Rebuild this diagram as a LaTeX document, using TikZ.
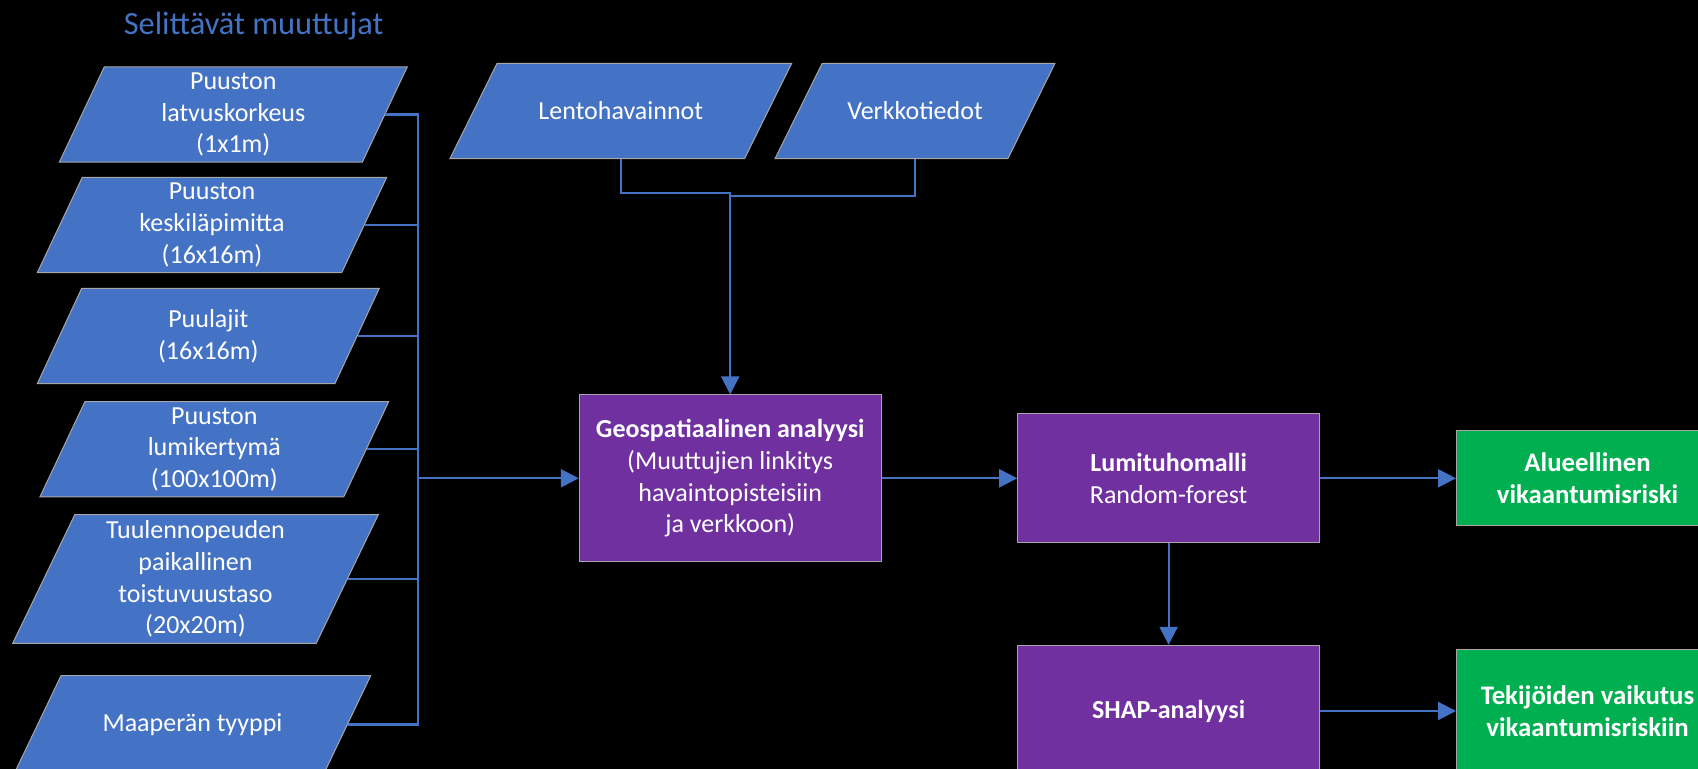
\documentclass[tikz,border=0pt]{standalone}
\usepackage{fontspec}
\setmainfont{Carlito}
\usepackage{xcolor}
\usepackage{tikz}
\usetikzlibrary{shapes.geometric,arrows.meta,positioning}

\definecolor{blu}{HTML}{4472C4}
\definecolor{purp}{HTML}{7030A0}
\definecolor{grn}{HTML}{00B050}

\begin{document}
\begin{tikzpicture}[
  x=0.5pt, y=-0.5pt,
  font=\fontsize{13}{15.9}\selectfont,
  inp/.style ={trapezium,trapezium left angle=63.6,trapezium right angle=116.4,
               trapezium stretches body,draw=gray!70,line width=0.5pt,fill=blu,
               text=white,align=center,inner xsep=0pt,inner ysep=1.7pt,
               minimum width=174pt,minimum height=47.7pt},
  proc/.style={draw=gray!70,line width=0.5pt,fill=purp,text=white,align=center,
               minimum width=150.9pt,minimum height=64.4pt,inner sep=2pt},
  res/.style ={draw=gray!70,line width=0.5pt,fill=grn,text=white,align=center,
               font=\fontsize{13.4}{16.2}\selectfont\bfseries,
               minimum width=131pt,minimum height=47.7pt,inner sep=2pt},
  ttl/.style ={font=\fontsize{16.2}{19}\selectfont,text=blu,anchor=base},
  conn/.style={draw=blu,line width=1.1pt},
  >={Triangle[length=9pt,width=9pt]}]

% page and background
\useasboundingbox (0,0) rectangle (1698,769);
\fill[black] (0,0) rectangle (1698,769);

%---------------- explanatory variables ----------------
\node[ttl] (title) at (253.7,34.3) {Selittävät muuttujat};
\node[inp] (p1) at (233.3,114.5) {Puuston\\latvuskorkeus\\(1x1m)};
\node[inp,minimum width=174.7pt] (p2) at (212,225) {Puuston\\keskiläpimitta\\(16x16m)};
\node[inp,minimum width=171pt,inner ysep=9pt] (p3) at (208.3,336) {Puulajit\\(16x16m)};
\node[inp,minimum width=174.4pt] (p4) at (214.3,449.3) {Puuston\\lumikertymä\\(100x100m)};
\node[inp,minimum width=182.8pt,minimum height=64.3pt,inner ysep=2pt] (p5) at (195.5,579)
  {Tuulennopeuden\\paikallinen\\toistuvuustaso\\(20x20m)};
\node[inp,minimum width=178.2pt,minimum height=48.8pt,inner ysep=18pt] (p6) at (192.5,724.5)
  {Maaperän tyyppi};

%---------------- observations and network ----------------
\node[inp,minimum width=170.9pt,inner ysep=19.2pt] (lento) at (620.8,111) {Lentohavainnot};
\node[inp,minimum width=140pt,inner ysep=19.2pt] (verk) at (915,111) {Verkkotiedot};

%---------------- analysis chain ----------------
\node[proc,minimum height=83.4pt] (geo) at (730.2,478.3)
  {\textbf{Geospatiaalinen analyysi}\\(Muuttujien linkitys\\havaintopisteisiin\\ja verkkoon)};
\node[proc,right=67.8pt of geo] (lumi) {\textbf{Lumituhomalli}\\Random-forest};
\node[proc,below=50.8pt of lumi,minimum height=65.7pt] (shap) {\textbf{SHAP-analyysi}};
\node[res,right=68pt of lumi] (alue) {Alueellinen\\vikaantumisriski};
\node[res,right=68pt of shap,minimum height=61.3pt] (tek) {Tekijöiden vaikutus\\vikaantumisriskiin};

% collector bar of the variables
\coordinate (bus) at (417.7,0);
\draw[conn] (p1.east) -| (bus |- p6.east) -- (p6.east);
\draw[conn] (p2.east) -- (p2.east -| bus); \draw[conn] (p3.east) -- (p3.east -| bus);
\draw[conn] (p4.east) -- (p4.east -| bus); \draw[conn] (p5.east) -- (p5.east -| bus);
\draw[conn,->] (geo.west -| bus) -- (geo.west);

% observations into the analysis
\coordinate (jn) at (730.2,196.3);
\draw[conn] (verk.south) |- (jn);
\draw[conn,->] (lento.south) -- ++(0,34) -| (geo.north);

\draw[conn,->] (geo)--(lumi); \draw[conn,->] (lumi)--(shap);
\draw[conn,->] (lumi)--(alue); \draw[conn,->] (shap)--(tek);

\end{tikzpicture}
\end{document}
